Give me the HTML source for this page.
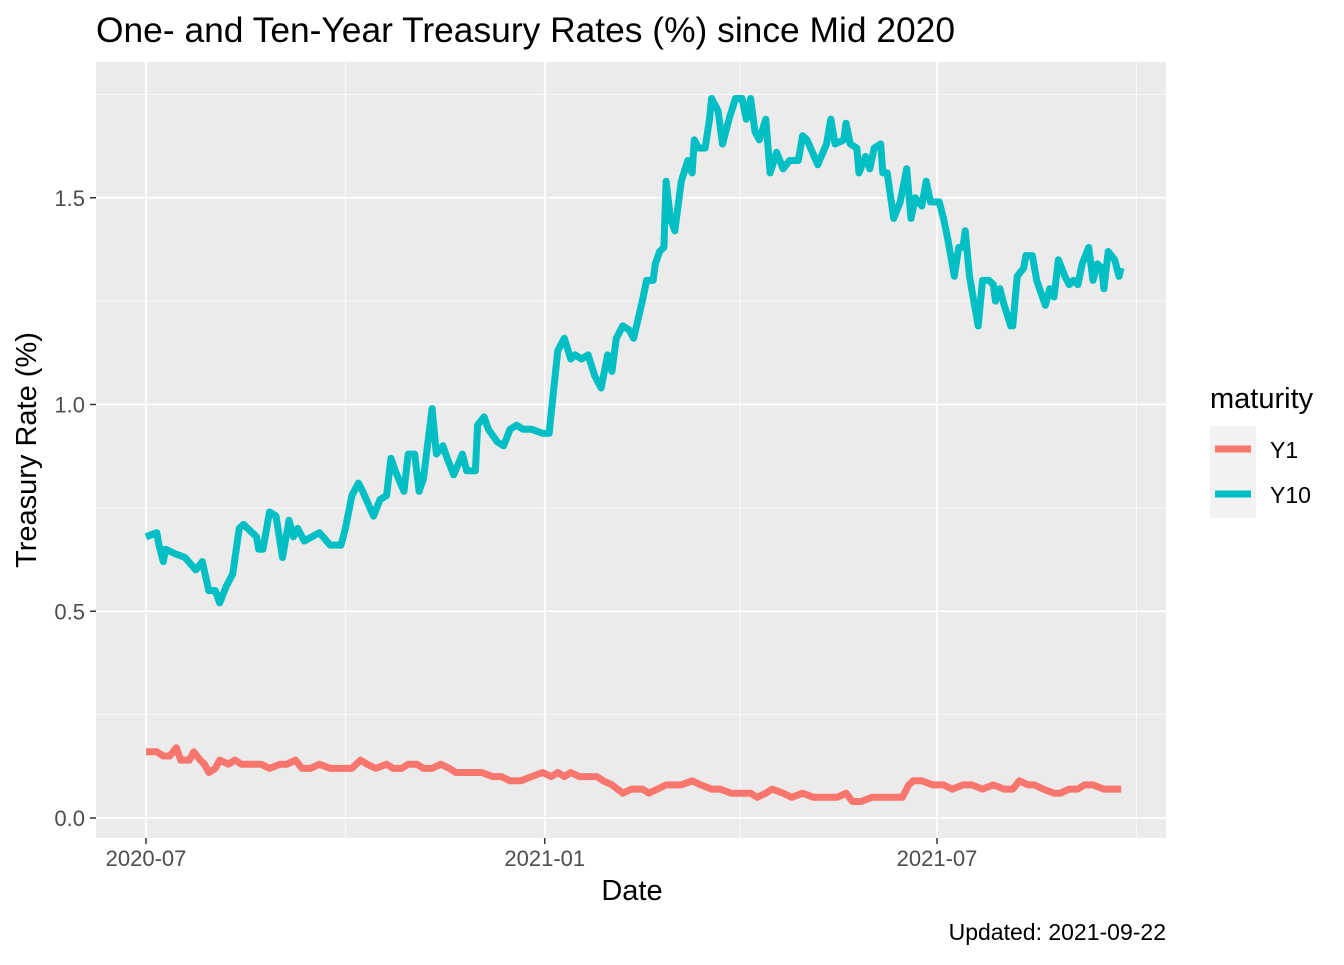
<!DOCTYPE html>
<html><head><meta charset="utf-8"><style>
body{margin:0;background:#fff;}
svg text{font-family:"Liberation Sans",sans-serif;}
</style></head><body>
<svg id="chart" width="1344" height="960">
<text x="96" y="42" font-size="35" fill="#000" textLength="859" lengthAdjust="spacingAndGlyphs">One- and Ten-Year Treasury Rates (%) since Mid 2020</text>
<rect x="96" y="62" width="1070" height="776" fill="#EBEBEB"/>
<g id="grid"></g><g id="axes"></g><g id="lines"></g>
<text x="632" y="900" font-size="29" text-anchor="middle">Date</text>
<text transform="translate(36,450) rotate(-90)" font-size="29" text-anchor="middle">Treasury Rate (%)</text>
<text x="1166" y="940" font-size="23" text-anchor="end">Updated: 2021-09-22</text>
<g>
<text x="1210" y="408" font-size="29">maturity</text>
<rect x="1210" y="426" width="46" height="92" fill="#F2F2F2"/>
<line x1="1215" y1="449" x2="1251" y2="449" stroke="#F8766D" stroke-width="7"/>
<line x1="1215" y1="494" x2="1251" y2="494" stroke="#00BFC4" stroke-width="7"/>
<text x="1270" y="458" font-size="23">Y1</text>
<text x="1270" y="503" font-size="23">Y10</text>
</g>
</svg>
<script>
const y10Days=[0,5,6,8,9,13,18,23,26,29,32,34,37,40,43,45,51,52,54,57,60,63,66,68,70,73,80,85,90,92,95,98,100,105,108,111,113,115,119,121,124,126,128,132,134,137,139,142,146,148,152,153,156,158,162,165,168,171,174,178,183,186,188,190,193,196,198,201,204,207,210,213,215,217,220,223,225,229,231,234,235,237,239,240,242,244,247,250,252,253,255,258,260,261,264,266,269,272,275,277,279,281,283,286,288,291,294,297,301,303,305,310,314,316,318,322,323,325,328,329,332,334,336,339,340,342,345,348,351,353,355,358,360,362,366,368,370,373,375,377,378,380,382,384,386,389,391,392,394,396,399,400,402,405,406,409,411,413,415,417,419,421,424,426,428,430,432,435,437,439,441,442,444,447,449,450];
const y10Vals=[0.68,0.69,0.66,0.62,0.65,0.64,0.63,0.60,0.62,0.55,0.55,0.52,0.56,0.59,0.70,0.71,0.68,0.65,0.65,0.74,0.73,0.63,0.72,0.68,0.70,0.67,0.69,0.66,0.66,0.70,0.78,0.81,0.79,0.73,0.77,0.78,0.87,0.84,0.79,0.88,0.88,0.79,0.82,0.99,0.88,0.90,0.87,0.83,0.88,0.84,0.84,0.95,0.97,0.94,0.91,0.90,0.94,0.95,0.94,0.94,0.93,0.93,1.03,1.13,1.16,1.11,1.12,1.11,1.12,1.07,1.04,1.12,1.08,1.16,1.19,1.18,1.16,1.25,1.30,1.30,1.34,1.37,1.38,1.54,1.45,1.42,1.54,1.59,1.56,1.64,1.62,1.62,1.69,1.74,1.71,1.63,1.69,1.74,1.74,1.69,1.74,1.66,1.64,1.69,1.56,1.61,1.57,1.59,1.59,1.65,1.64,1.58,1.63,1.69,1.63,1.64,1.68,1.63,1.62,1.56,1.60,1.57,1.62,1.63,1.56,1.56,1.45,1.49,1.57,1.45,1.50,1.48,1.54,1.49,1.49,1.45,1.40,1.31,1.38,1.38,1.42,1.31,1.25,1.19,1.30,1.30,1.29,1.25,1.28,1.24,1.19,1.19,1.31,1.33,1.36,1.36,1.30,1.27,1.24,1.28,1.26,1.35,1.31,1.29,1.30,1.29,1.34,1.38,1.30,1.34,1.33,1.28,1.37,1.35,1.31,1.33];
const y1Days=[0,5,8,11,14,16,20,22,25,27,29,32,34,38,41,44,48,53,57,62,65,69,72,76,80,85,90,95,99,102,106,111,114,118,121,125,128,132,136,140,143,148,151,155,160,164,168,173,178,183,187,190,193,196,200,204,208,211,215,220,224,229,232,236,240,243,247,252,256,261,265,270,275,279,282,286,289,294,298,303,308,312,316,319,323,326,330,335,340,345,349,352,354,358,363,368,372,377,381,386,391,396,400,403,407,410,414,419,422,426,430,433,437,442,446,450];
const y1Vals=[0.16,0.16,0.15,0.15,0.17,0.14,0.14,0.16,0.14,0.13,0.11,0.12,0.14,0.13,0.14,0.13,0.13,0.13,0.12,0.13,0.13,0.14,0.12,0.12,0.13,0.12,0.12,0.12,0.14,0.13,0.12,0.13,0.12,0.12,0.13,0.13,0.12,0.12,0.13,0.12,0.11,0.11,0.11,0.11,0.10,0.10,0.09,0.09,0.10,0.11,0.10,0.11,0.10,0.11,0.10,0.10,0.10,0.09,0.08,0.06,0.07,0.07,0.06,0.07,0.08,0.08,0.08,0.09,0.08,0.07,0.07,0.06,0.06,0.06,0.05,0.06,0.07,0.06,0.05,0.06,0.05,0.05,0.05,0.05,0.06,0.04,0.04,0.05,0.05,0.05,0.05,0.08,0.09,0.09,0.08,0.08,0.07,0.08,0.08,0.07,0.08,0.07,0.07,0.09,0.08,0.08,0.07,0.06,0.06,0.07,0.07,0.08,0.08,0.07,0.07,0.07];
const yTicks=[0,0.5,1.0,1.5];
const yTickLabels=["0.0","0.5","1.0","1.5"];
const yMinor=[0.25,0.75,1.25,1.75];
const xTickDays=[0,184,365];
const xTickLabels=["2020-07","2021-01","2021-07"];
const xMinorDays=[92,274,457];

const NS="http://www.w3.org/2000/svg";
const X=d=>146+d*(937-146)/365;
const Y=v=>818-v*413.5;
function mk(tag,attrs,parent){const e=document.createElementNS(NS,tag);for(const k in attrs)e.setAttribute(k,attrs[k]);document.getElementById(parent).appendChild(e);return e;}
yMinor.forEach(v=>{const e=mk('line',{x1:96,x2:1166,y1:Y(v),y2:Y(v),stroke:'#fff','stroke-width':0.8},'grid');

});
xMinorDays.forEach(d=>{const e=mk('line',{x1:X(d),x2:X(d),y1:62,y2:838,stroke:'#fff','stroke-width':0.8},'grid');

});
yTicks.forEach((v,i)=>{const e=mk('line',{x1:96,x2:1166,y1:Y(v),y2:Y(v),stroke:'#fff','stroke-width':1.8},'grid');


const t=mk('line',{x1:90,x2:96,y1:Y(v),y2:Y(v),stroke:'#333','stroke-width':1.5},'axes');


const l=mk('text',{x:85,y:Y(v)+8,'font-size':22,fill:'#4D4D4D','text-anchor':'end'},'axes');l.textContent=yTickLabels[i];

});
xTickDays.forEach((d,i)=>{const e=mk('line',{x1:X(d),x2:X(d),y1:62,y2:838,stroke:'#fff','stroke-width':1.8},'grid');


const t=mk('line',{x1:X(d),x2:X(d),y1:838,y2:844,stroke:'#333','stroke-width':1.5},'axes');


const l=mk('text',{x:X(d),y:866,'font-size':22,fill:'#4D4D4D','text-anchor':'middle'},'axes');l.textContent=xTickLabels[i];

});
function path(days,vals){return days.map((d,i)=>(i?'L':'M')+X(d).toFixed(1)+','+Y(vals[i]).toFixed(1)).join('');}
const p1=mk('path',{d:path(y1Days,y1Vals),fill:'none',stroke:'#F8766D','stroke-width':7,'stroke-linejoin':'round'},'lines');


const p2=mk('path',{d:path(y10Days,y10Vals),fill:'none',stroke:'#00BFC4','stroke-width':7,'stroke-linejoin':'round'},'lines');


</script>
</body></html>
